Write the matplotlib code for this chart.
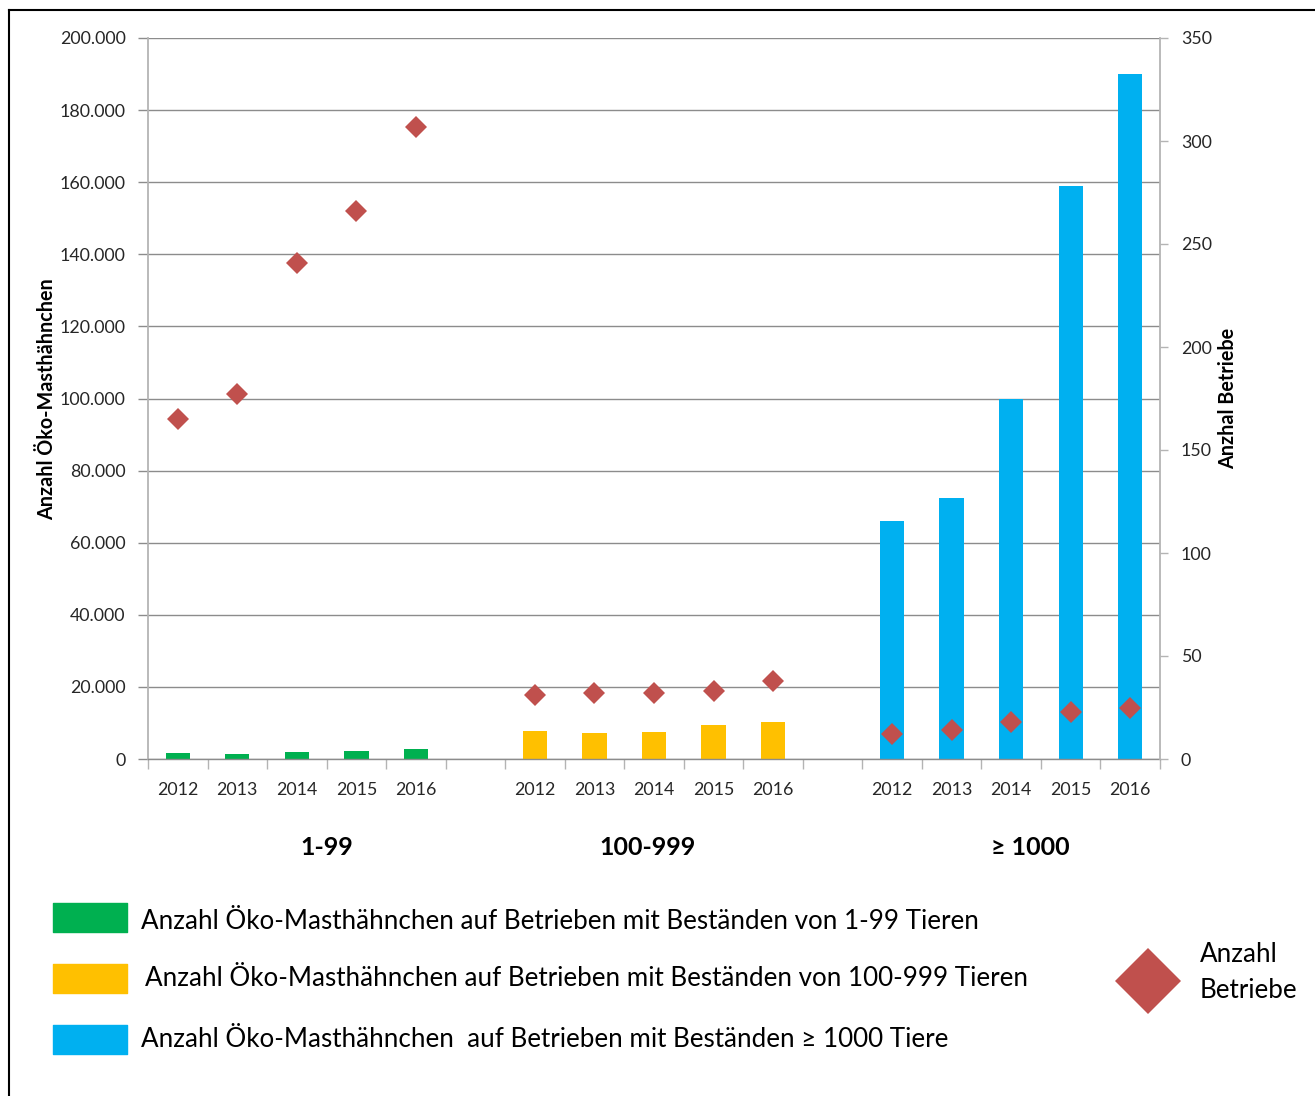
import matplotlib
matplotlib.use("Agg")
import matplotlib.pyplot as plt
from matplotlib.lines import Line2D
from matplotlib.patches import Rectangle
from matplotlib.ticker import FuncFormatter, FixedLocator

# --- data -------------------------------------------------------------
years = ["2012", "2013", "2014", "2015", "2016"]
groups = ["1-99", "100-999", "≥ 1000"]

tiere_1_99 = [1700, 1300, 1900, 2300, 2850]
tiere_100_999 = [7850, 7200, 7500, 9500, 10150]
tiere_ab_1000 = [66000, 72400, 100000, 159000, 190000]

betriebe_1_99 = [165, 177, 241, 266, 307]
betriebe_100_999 = [31, 32, 32, 33, 38]
betriebe_ab_1000 = [12, 14, 18, 23, 25]

legend_texts = [
    "Anzahl Öko-Masthähnchen auf Betrieben mit Beständen von 1-99 Tieren",
    "Anzahl Öko-Masthähnchen auf Betrieben mit Beständen von 100-999 Tieren",
    "Anzahl Öko-Masthähnchen  auf Betrieben mit Beständen ≥ 1000 Tiere",
]

# --- style ------------------------------------------------------------
W, H = 1315, 1096
DPI = 100
FONT = ["Lato", "DejaVu Sans"]
plt.rcParams["font.family"] = FONT
GREEN, YELLOW, BLUE, RED = "#00B050", "#FFC000", "#00B0F0", "#C0504D"
GRID = "#8c8c8c"
SPINE = "#b4b4b4"
TXT = "#262626"
LEG_FS = 18.7


def fx(px):
    return px / W


def fy(py):
    return 1 - py / H


fig = plt.figure(figsize=(W / DPI, H / DPI), dpi=DPI)
fig.patch.set_facecolor("white")
ax = fig.add_axes([fx(148), fy(759), (1160 - 148) / W, (759 - 38) / H])
ax2 = ax.twinx()

bar_series = [tiere_1_99, tiere_100_999, tiere_ab_1000]
dot_series = [betriebe_1_99, betriebe_100_999, betriebe_ab_1000]
colors = [GREEN, YELLOW, BLUE]

xpos_all, xlabels = [], []
for g, (vals, dots, col) in enumerate(zip(bar_series, dot_series, colors)):
    xs = [g * 6 + i for i in range(len(years))]
    ax.bar(xs, vals, width=0.41, color=col, zorder=2)
    ax2.plot(xs, dots, linestyle="none", marker="D", ms=11.7,
             color=RED, markeredgewidth=0, zorder=3)
    xpos_all += xs
    xlabels += years

# left axis
ax.set_xlim(-0.5, 16.5)
ax.set_ylim(0, 200000)
ax.set_yticks(range(0, 200001, 20000))
ax.yaxis.set_major_formatter(
    FuncFormatter(lambda v, p: f"{int(v):,}".replace(",", ".")))
ax.set_axisbelow(True)
ax.grid(axis="y", color=GRID, linewidth=1.0)
ax.set_xticks(xpos_all)
ax.set_xticklabels(xlabels)
ax.xaxis.set_minor_locator(FixedLocator([k - 0.5 for k in range(18)]))
ax.tick_params(axis="x", which="major", length=0, pad=16.5,
               labelsize=12.8, labelcolor=TXT)
ax.tick_params(axis="x", which="minor", length=7, width=1, color=SPINE,
               direction="out")
ax.tick_params(axis="y", length=7, width=1, color=GRID, pad=9,
               labelsize=12.8, labelcolor=TXT)
for side in ("top", "right"):
    ax.spines[side].set_visible(False)
ax.spines["left"].set_color(SPINE)
ax.spines["left"].set_linewidth(1.3)
ax.spines["bottom"].set_color(GRID)
ax.spines["bottom"].set_linewidth(1.0)

# right axis
ax2.set_ylim(0, 350)
ax2.set_yticks(range(0, 351, 50))
ax2.tick_params(axis="y", length=6, width=1, color=SPINE, pad=9,
                labelsize=12.8, labelcolor=TXT)
for side in ("top", "left", "bottom"):
    ax2.spines[side].set_visible(False)
ax2.spines["right"].set_color(SPINE)
ax2.spines["right"].set_linewidth(1.3)

# axis titles
fig.text(fx(47), fy(399), "Anzahl Öko-Masthähnchen", rotation=90,
         ha="center", va="center", fontsize=14.2, fontweight="bold", color="black")
fig.text(fx(1228), fy(398), "Anzhal Betriebe", rotation=90,
         ha="center", va="center", fontsize=14.2, fontweight="bold", color="black")

# group captions below the year labels
for label, px in zip(groups, [327, 648, 1030]):
    fig.text(fx(px), fy(855), label, ha="center", va="baseline",
             fontsize=18, fontweight="bold", color="black")

# legend
swatches = [(903, 932), (964, 993), (1025, 1054)]
text_pos = [(141, 929), (145, 986), (141, 1047)]
for (top, bot), (tx, ty), col, txt in zip(swatches, text_pos, colors, legend_texts):
    fig.add_artist(Rectangle((fx(53), fy(bot)), (127 - 53) / W, (bot - top) / H,
                             transform=fig.transFigure, facecolor=col,
                             edgecolor=col, linewidth=1, joinstyle="round"))
    fig.text(fx(tx), fy(ty), txt, ha="left", va="baseline",
             fontsize=LEG_FS, color="black")

fig.add_artist(Line2D([fx(1148)], [fy(981)], transform=fig.transFigure,
                      marker="D", ms=34, color=RED, markeredgewidth=0,
                      linestyle="none"))
fig.text(fx(1200), fy(962), "Anzahl", ha="left", va="baseline",
         fontsize=LEG_FS, color="black")
fig.text(fx(1200), fy(998), "Betriebe", ha="left", va="baseline",
         fontsize=LEG_FS, color="black")

# frame on the left and top edges
fig.add_artist(Line2D([fx(9), fx(9)], [fy(10), 0], transform=fig.transFigure,
                      color="black", linewidth=1.5))
fig.add_artist(Line2D([fx(9), 1], [fy(10), fy(10)], transform=fig.transFigure,
                      color="black", linewidth=1.5))

fig.savefig("out.png", dpi=DPI, facecolor="white")
